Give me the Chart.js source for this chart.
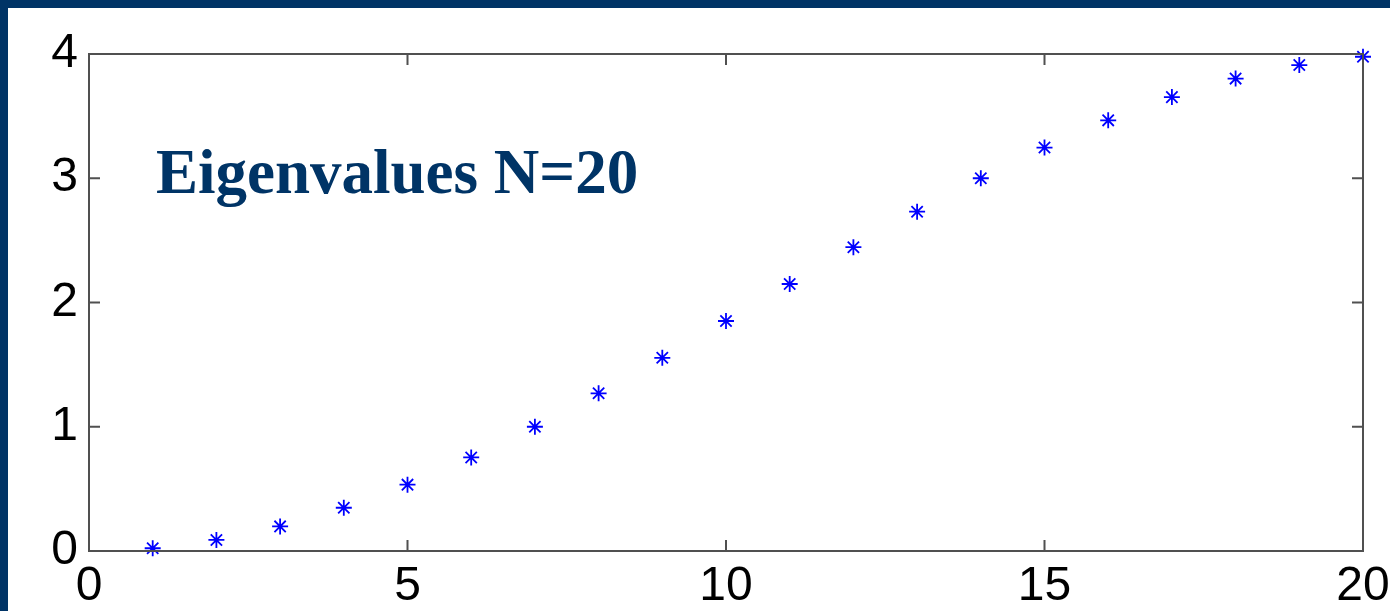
<!DOCTYPE html>
<html>
<head>
<meta charset="utf-8">
<script src="https://cdn.jsdelivr.net/npm/chart.js@4.4.1/dist/chart.umd.min.js"></script>
<style>
  html, body { margin: 0; padding: 0; overflow: hidden; background: #003466; width: 1390px; height: 611px; }
  #wrap { position: absolute; left: 8px; top: 8px; width: 1382px; height: 650px; background: #ffffff; }
</style>
</head>
<body>
<div id="wrap"><canvas id="myChart" width="1382" height="650"></canvas></div>
<script>
// データ（固有値 N=20）
var idx = [1, 2, 3, 4, 5, 6, 7, 8, 9, 10, 11, 12, 13, 14, 15, 16, 17, 18, 19, 20];
var eig = [0.022, 0.089, 0.198, 0.348, 0.534, 0.753, 1.000, 1.269, 1.555, 1.851,
           2.149, 2.445, 2.731, 3.000, 3.247, 3.466, 3.653, 3.802, 3.911, 3.978];
var xTicks = [0, 5, 10, 15, 20];
var yTicks = [0, 1, 2, 3, 4];
var titleText = "Eigenvalues N=20";

var points = idx.map(function(k, i){ return {x: k, y: eig[i]}; });

// 枠線と内向きの目盛り
var boxPlugin = {
  id: 'box',
  afterDraw: function(chart){
    var ctx = chart.ctx;
    var a = chart.chartArea;
    var xs = chart.scales.x, ys = chart.scales.y;
    var len = 11;
    ctx.save();
    ctx.strokeStyle = '#505050';
    ctx.lineWidth = 2;
    ctx.strokeRect(a.left, a.top, a.right - a.left, a.bottom - a.top);
    ctx.beginPath();
    xTicks.forEach(function(v){
      var px = xs.getPixelForValue(v);
      ctx.moveTo(px, a.bottom); ctx.lineTo(px, a.bottom - len);
      ctx.moveTo(px, a.top); ctx.lineTo(px, a.top + len);
    });
    yTicks.forEach(function(v){
      var py = ys.getPixelForValue(v);
      ctx.moveTo(a.left, py); ctx.lineTo(a.left + len, py);
      ctx.moveTo(a.right, py); ctx.lineTo(a.right - len, py);
    });
    ctx.stroke();
    // タイトル
    ctx.fillStyle = '#003466';
    ctx.font = 'bold 63px "Liberation Serif", "Times New Roman", serif';
    ctx.textBaseline = 'alphabetic';
    ctx.textAlign = 'left';
    ctx.fillText(titleText, 148, 185);
    ctx.restore();
  }
};

var ctx = document.getElementById("myChart").getContext('2d');
var myChart = new Chart(ctx, {
  type: 'scatter',
  data: {
    datasets: [{
      data: points,
      pointStyle: 'star',
      pointRadius: 8,
      pointBorderWidth: 1.8,
      borderColor: '#0000ff',
      backgroundColor: '#0000ff',
      showLine: false
    }]
  },
  options: {
    responsive: false,
    animation: false,
    clip: false,
    layout: { padding: { top: 46, right: 27, left: 0, bottom: 0 } },
    plugins: { legend: { display: false }, tooltip: { enabled: false } },
    scales: {
      x: {
        type: 'linear',
        min: 0, max: 20,
        afterBuildTicks: function(s){ s.ticks = xTicks.map(function(v){ return {value: v}; }); },
        afterFit: function(s){ s.height = 107; s.paddingLeft = 0; s.paddingRight = 0; },
        grid: { display: false, drawTicks: false },
        border: { display: false },
        ticks: { color: '#000', padding: 7, maxRotation: 0, autoSkip: false,
                 font: { family: '"Liberation Sans", Arial, sans-serif', size: 48 } }
      },
      y: {
        type: 'linear',
        min: 0, max: 4,
        afterBuildTicks: function(s){ s.ticks = yTicks.map(function(v){ return {value: v}; }); },
        afterFit: function(s){ s.width = 81; s.paddingTop = 0; s.paddingBottom = 0; },
        grid: { display: false, drawTicks: false },
        border: { display: false },
        ticks: { color: '#000', padding: 11,
                 font: { family: '"Liberation Sans", Arial, sans-serif', size: 48 } }
      }
    }
  },
  plugins: [boxPlugin]
});
</script>
</body>
</html>
